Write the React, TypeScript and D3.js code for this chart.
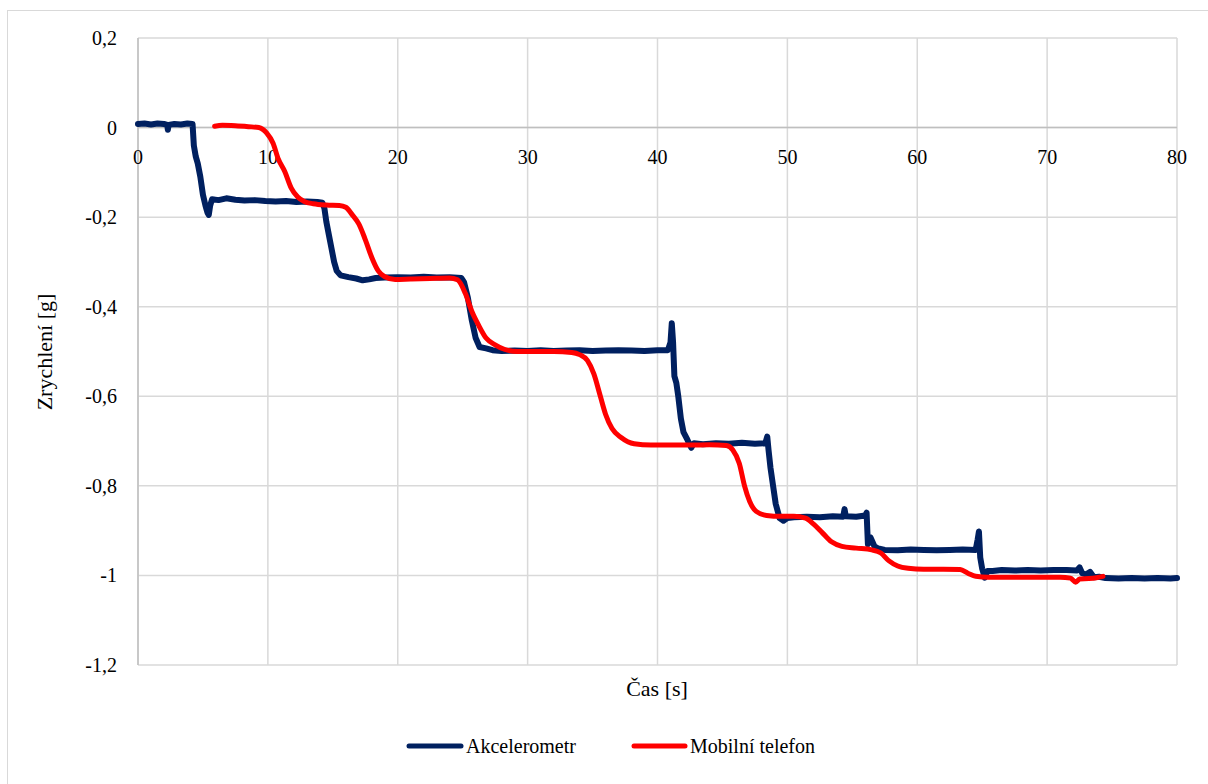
import React from "react";
import * as d3 from "d3";

// Akcelerometr: time [s], acceleration [g]
const accelT = [
  0, 0.5, 1.0, 1.5, 2.0, 2.25, 2.3, 2.35, 2.8, 3.3, 3.8, 4.2, 4.3, 4.45, 4.6, 4.8, 5.0, 5.2, 5.35, 5.45,
  5.55, 5.7, 6.2, 6.8, 7.5, 8.2, 9.0, 9.8, 10.6, 11.4, 12.2, 13.0, 13.8, 14.2, 14.35, 14.5, 14.7, 14.9,
  15.1, 15.3, 15.6, 16.2, 16.8, 17.3, 17.8, 18.3, 19.0, 20, 21, 22, 23, 24, 24.9, 25.1, 25.4, 25.7, 26.0,
  26.3, 26.8, 27.3, 28, 29, 30, 31, 32, 33, 34, 35, 36, 37, 38, 39, 40, 40.8, 41.0, 41.1, 41.2, 41.3,
  41.45, 41.6, 41.8, 42.0, 42.3, 42.6, 42.8, 43.5, 44.5, 45.5, 46.5, 47.5, 48.3, 48.45, 48.55, 48.7,
  48.9, 49.1, 49.4, 49.7, 50.0, 50.5, 51.5, 52.5, 53.5, 54.3, 54.4, 54.5, 55.3, 56.0, 56.1, 56.2, 56.4,
  56.7, 57.0, 57.5, 58.5, 59.5, 60.5, 61.5, 62.5, 63.5, 64.5, 64.65, 64.75, 64.85, 65.0, 65.2, 65.4,
  65.8, 66.5, 67.5, 68.5, 69.5, 70.5, 71.5, 72.3, 72.5, 72.7, 73.0, 73.3, 73.6, 74.0, 74.5, 75.5, 76.5,
  77.5, 78.5, 79.5, 80,
];
const accelV = [
  0.008, 0.009, 0.007, 0.009, 0.008, 0.006, -0.005, 0.006, 0.008, 0.007, 0.009, 0.008, -0.04, -0.065,
  -0.08, -0.11, -0.15, -0.175, -0.19, -0.195, -0.175, -0.16, -0.162, -0.158, -0.161, -0.163, -0.162,
  -0.164, -0.165, -0.164, -0.166, -0.165, -0.166, -0.168, -0.18, -0.21, -0.24, -0.27, -0.3, -0.32,
  -0.33, -0.334, -0.337, -0.341, -0.339, -0.336, -0.335, -0.334, -0.335, -0.333, -0.335, -0.334,
  -0.336, -0.345, -0.38, -0.43, -0.47, -0.49, -0.493, -0.497, -0.499, -0.498, -0.499, -0.497, -0.499,
  -0.498, -0.497, -0.499, -0.498, -0.497, -0.498, -0.499, -0.497, -0.497, -0.48, -0.437, -0.48,
  -0.555, -0.57, -0.6, -0.65, -0.68, -0.697, -0.715, -0.705, -0.707, -0.705, -0.706, -0.704, -0.706,
  -0.705, -0.69, -0.72, -0.76, -0.8, -0.84, -0.872, -0.878, -0.872, -0.87, -0.869, -0.87, -0.868,
  -0.869, -0.852, -0.868, -0.869, -0.866, -0.86, -0.93, -0.915, -0.935, -0.94, -0.943, -0.944,
  -0.942, -0.943, -0.944, -0.943, -0.942, -0.943, -0.92, -0.902, -0.96, -0.985, -1.005, -0.99, -0.99,
  -0.988, -0.989, -0.988, -0.989, -0.988, -0.988, -0.989, -0.982, -0.995, -0.998, -0.992, -1.004,
  -1.003, -1.006, -1.007, -1.006, -1.007, -1.006, -1.007, -1.006,
];

// Mobilní telefon
const phoneT = [
  5.9, 6.5, 7.5, 8.5, 9.3, 9.9, 10.4, 10.8, 11.3, 11.8, 12.3, 12.8, 13.5, 14.5, 15.5, 16.0, 16.5, 17.0,
  17.5, 18.0, 18.5, 19.0, 19.8, 21, 22.5, 24, 24.6, 25.2, 25.7, 26.2, 26.8, 27.5, 28.2, 29.2, 30.5, 32,
  33.4, 34.0, 34.6, 35.1, 35.6, 36.0, 36.5, 37.2, 38.2, 39.5, 41, 42.5, 44, 45.3, 45.8, 46.3, 46.7,
  47.1, 47.6, 48.4, 49.5, 50.5, 51.4, 52.0, 52.7, 53.4, 54.2, 55.3, 56.5, 57.2, 57.8, 58.5, 59.3,
  60.5, 62, 63.3, 63.9, 64.5, 65.5, 67, 69, 71, 71.8, 72.2, 72.5, 73.2, 73.8, 74.3,
];
const phoneV = [
  0.003, 0.005, 0.004, 0.002, 0.0, -0.012, -0.035, -0.07, -0.098, -0.135, -0.155, -0.165, -0.17,
  -0.173, -0.174, -0.178, -0.195, -0.215, -0.25, -0.29, -0.32, -0.333, -0.339, -0.338, -0.337,
  -0.336, -0.34, -0.37, -0.41, -0.44, -0.47, -0.485, -0.495, -0.5, -0.5, -0.5, -0.502, -0.507,
  -0.52, -0.55, -0.6, -0.64, -0.672, -0.692, -0.706, -0.709, -0.709, -0.709, -0.708, -0.71, -0.72,
  -0.75, -0.8, -0.835, -0.857, -0.866, -0.868, -0.868, -0.872, -0.885, -0.905, -0.925, -0.935,
  -0.939, -0.943, -0.95, -0.967, -0.979, -0.984, -0.986, -0.986, -0.987, -0.995, -1.002, -1.004,
  -1.004, -1.004, -1.004, -1.006, -1.015, -1.008, -1.007, -1.005, -1.002,
];

const xTicks = [0, 10, 20, 30, 40, 50, 60, 70, 80];
const yTicks = [0.2, 0, -0.2, -0.4, -0.6, -0.8, -1, -1.2];

const W = 1208;
const H = 784;
const font = '"Times New Roman", Times, "Liberation Serif", "DejaVu Serif", "Noto Serif", FreeSerif, serif';

export default function App() {
  const x = d3.scaleLinear().domain([0, 80]).range([138, 1177]);
  const y = d3.scaleLinear().domain([-1.2, 0.2]).range([665, 38]);

  const fmt = (v: number) => (Math.abs(v) < 1e-9 ? "0" : String(+v.toFixed(1)).replace(".", ","));

  const accel = accelT.map((t, i) => [t, accelV[i]] as [number, number]);
  const phone = phoneT.map((t, i) => [t, phoneV[i]] as [number, number]);

  const lineA = d3
    .line<[number, number]>()
    .x((d) => x(d[0]))
    .y((d) => y(d[1]));
  const lineP = d3
    .line<[number, number]>()
    .x((d) => x(d[0]))
    .y((d) => y(d[1]))
    .curve(d3.curveMonotoneX);

  const ts = { fontFamily: font };

  return (
    <svg width={W} height={H} style={{ position: "absolute", left: 0, top: 0, fontFamily: font }}>
      <rect x={0} y={0} width={W} height={H} fill="#fff" />
      <rect x={7.5} y={10.5} width={1220} height={800} fill="none" stroke="#d9d9d9" />

      {/* grid */}
      {xTicks.map((t) => (
        <line key={"gx" + t} x1={x(t)} x2={x(t)} y1={y(0.2)} y2={y(-1.2)} stroke="#d9d9d9" strokeWidth={1.5} />
      ))}
      {yTicks.map((t) => (
        <line key={"gy" + t} x1={x(0)} x2={x(80)} y1={y(t)} y2={y(t)} stroke="#d9d9d9" strokeWidth={1.5} />
      ))}
      {/* axes */}
      <line x1={x(0)} x2={x(0)} y1={y(0.2)} y2={y(-1.2)} stroke="#bfbfbf" strokeWidth={1.5} />
      <line x1={x(0)} x2={x(80)} y1={y(0)} y2={y(0)} stroke="#bfbfbf" strokeWidth={1.5} />

      {/* tick labels */}
      {yTicks.map((t) => (
        <text key={"ly" + t} style={ts} x={117} y={y(t) + 7} textAnchor="end" fontSize={20} fill="#000">
          {fmt(t)}
        </text>
      ))}
      {xTicks.map((t) => (
        <text key={"lx" + t} style={ts} x={x(t)} y={164} textAnchor="middle" fontSize={20} fill="#000">
          {t}
        </text>
      ))}

      {/* series */}
      <path d={lineA(accel) || ""} fill="none" stroke="#002060" strokeWidth={6} strokeLinejoin="round" strokeLinecap="round" />
      <path d={lineP(phone) || ""} fill="none" stroke="#ff0000" strokeWidth={5} strokeLinejoin="round" strokeLinecap="round" />

      {/* axis titles */}
      <text style={ts} x={657} y={696} textAnchor="middle" fontSize={22} fill="#000">
        Čas [s]
      </text>
      <text style={ts} transform="translate(52,352) rotate(-90)" textAnchor="middle" fontSize={22} fill="#000">
        Zrychlení [g]
      </text>

      {/* legend */}
      <line x1={409} x2={461} y1={746} y2={746} stroke="#002060" strokeWidth={5} strokeLinecap="round" />
      <text style={ts} x={466} y={753} fontSize={20} fill="#000">
        Akcelerometr
      </text>
      <line x1={634} x2={685} y1={746} y2={746} stroke="#ff0000" strokeWidth={5} strokeLinecap="round" />
      <text style={ts} x={690} y={753} fontSize={20} fill="#000">
        Mobilní telefon
      </text>
    </svg>
  );
}
